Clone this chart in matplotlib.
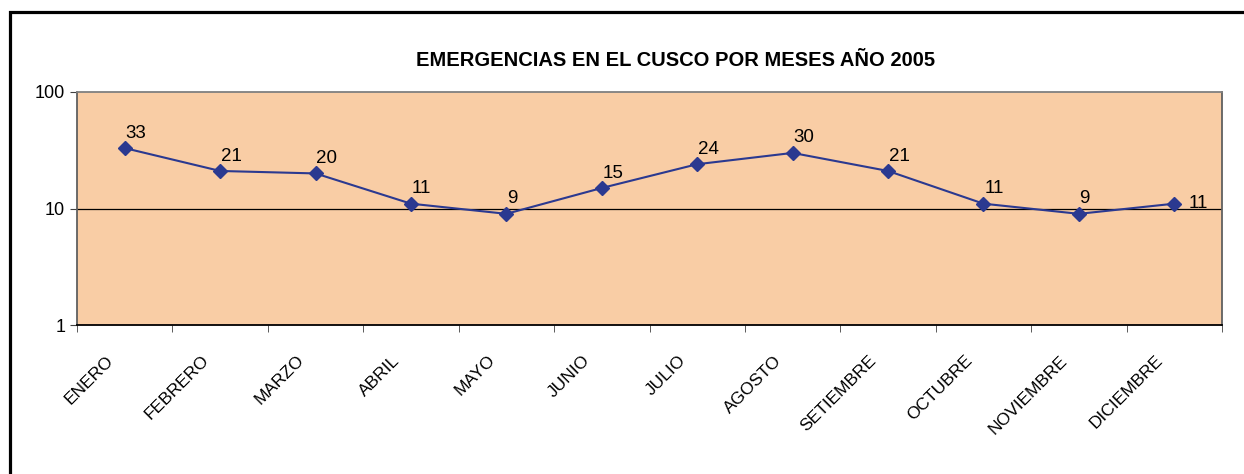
import numpy as np
import matplotlib.pyplot as plt
import matplotlib.transforms as mtransforms
from matplotlib.patches import Rectangle
from matplotlib.ticker import FixedLocator, NullLocator

plt.rcParams['font.family'] = ['Liberation Sans', 'DejaVu Sans']

meses = ['ENERO', 'FEBRERO', 'MARZO', 'ABRIL', 'MAYO', 'JUNIO', 'JULIO',
         'AGOSTO', 'SETIEMBRE', 'OCTUBRE', 'NOVIEMBRE', 'DICIEMBRE']
emergencias = [33, 21, 20, 11, 9, 15, 24, 30, 21, 11, 9, 11]
titulo = 'EMERGENCIAS EN EL CUSCO POR MESES AÑO 2005'

fig = plt.figure(figsize=(12.44, 4.74), dpi=100)
W, H = 1244, 474

# marco exterior (solo se ven borde izq. y superior)
fig.patches.append(Rectangle((9.5 / W, -0.1), 1.2, 1 - 12 / H + 0.1,
                             transform=fig.transFigure, fill=False,
                             edgecolor='black', linewidth=2.3))

ax = fig.add_axes([77 / W, 1 - 325 / H, (1222 - 77) / W, (325 - 92) / H])
ax.set_facecolor('#F9CDA5')

x = np.arange(len(meses))
ax.plot(x, emergencias, color='#2B3990', linewidth=1.5, marker='D',
        markersize=7.5, markerfacecolor='#2B3990', markeredgecolor='#2B3990',
        zorder=3)

for i, v in enumerate(emergencias):
    if i == len(emergencias) - 1:
        ax.annotate(str(v), (i, v), xytext=(10, 0), textcoords='offset points',
                    ha='left', va='center', fontsize=13.5)
    else:
        ax.annotate(str(v), (i, v), xytext=(0.5, 7.5), textcoords='offset points',
                    ha='left', va='baseline', fontsize=13.5)

ax.set_yscale('log')
ax.set_ylim(1, 100)
ax.yaxis.set_major_locator(FixedLocator([1, 10, 100]))
ax.yaxis.set_minor_locator(NullLocator())
ax.set_yticklabels(['1', '10', '100'], fontsize=13)
ax.axhline(10, color='black', linewidth=0.9, zorder=1)

ax.set_xlim(-0.5, len(meses) - 0.5)
ax.set_xticks(x)
ax.set_xticklabels([])
ax.set_xticks(np.arange(-0.5, len(meses), 1), minor=True)
ax.tick_params(axis='x', which='major', length=0)
ax.tick_params(axis='x', which='minor', length=5, direction='out', color='#404040')
ax.tick_params(axis='y', which='major', length=5, direction='out', color='#404040')

# etiquetas de meses giradas 45 grados
offset = mtransforms.ScaledTranslation(-14 / 100, -33 / 100, fig.dpi_scale_trans)
for i, m in enumerate(meses):
    ax.text(i, 0, m, transform=ax.get_xaxis_transform() + offset,
            rotation=45, rotation_mode='anchor', ha='right', va='center',
            fontsize=12.5)

ax.spines['left'].set_color('#606060')
ax.spines['bottom'].set_color('black')
ax.spines['top'].set_color('#808080')
ax.spines['right'].set_color('#606060')
for s in ax.spines.values():
    s.set_linewidth(1.3)

fig.text(676 / W, 1 - 60 / H, titulo, ha='center', va='center',
         fontsize=14.5, fontweight='bold')

fig.savefig('out.png', dpi=100)
